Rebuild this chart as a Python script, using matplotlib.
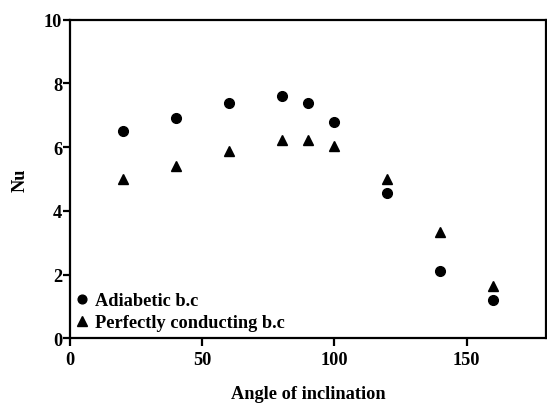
import matplotlib
matplotlib.use("Agg")
import matplotlib.pyplot as plt

angles = [20, 40, 60, 80, 90, 100, 120, 140, 160]
nu_adiabatic = [6.52, 6.91, 7.39, 7.60, 7.40, 6.80, 4.56, 2.13, 1.22]
nu_conducting = [5.00, 5.42, 5.89, 6.23, 6.24, 6.05, 5.00, 3.33, 1.63]
xticks = [0, 50, 100, 150]
yticks = [0, 2, 4, 6, 8, 10]

plt.rcParams['font.family'] = ['Liberation Serif', 'DejaVu Serif']
FS = 13.2

fig = plt.figure(figsize=(5.47, 4.06), dpi=100)
ax = fig.add_axes([0.128, 0.164, 0.870, 0.785])

ax.plot(angles, nu_adiabatic, linestyle='none', marker='o', color='black',
        markersize=7, label='Adiabetic b.c')
ax.plot(angles, nu_conducting, linestyle='none', marker='^', color='black',
        markersize=7.5, label='Perfectly conducting b.c')

ax.set_xlim(0, 180)
ax.set_ylim(0, 10)
ax.set_xticks(xticks)
ax.set_yticks(yticks)
for s in ['left', 'bottom', 'top', 'right']:
    ax.spines[s].set_linewidth(1.6)
ax.tick_params(axis='both', direction='out', width=1.6, labelsize=FS)
ax.tick_params(axis='x', length=6, pad=3)
ax.tick_params(axis='y', length=5, pad=0.5)
for lab in ax.get_xticklabels() + ax.get_yticklabels():
    lab.set_fontweight('bold')

ax.set_xlabel('Angle of inclination', fontsize=FS, fontweight='bold', labelpad=12)
ax.set_ylabel('Nu', fontsize=FS, fontweight='bold', labelpad=11)

ax.legend(loc='lower left', frameon=False, handletextpad=0.25,
          handlelength=0.9, borderaxespad=0.0, borderpad=0.3, labelspacing=0.25,
          prop={'weight': 'bold', 'size': FS}, markerscale=0.9,
          bbox_to_anchor=(-0.003, 0.006))

fig.savefig('out.png', dpi=100)
